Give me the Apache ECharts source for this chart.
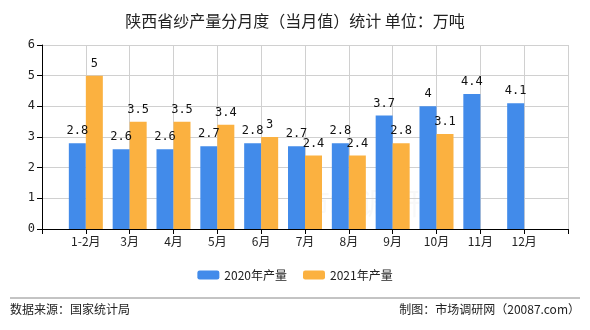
<!DOCTYPE html>
<html>
<head>
<meta charset="utf-8">
<script src="https://cdn.jsdelivr.net/npm/echarts@6/dist/echarts.min.js"></script>
<style>
html,body{margin:0;padding:0;background:#fff;}
#chart{width:590px;height:330px;}
</style>
</head>
<body>
<div id="chart"></div>
<script>
// Monthly yarn output in Shaanxi (10k tonnes); blank slots pad both ends of the axis
const months = ['', '1-2月', '3月', '4月', '5月', '6月', '7月', '8月', '9月', '10月', '11月', '12月', ''];
const output2020 = [null, 2.8, 2.6, 2.6, 2.7, 2.8, 2.7, 2.8, 3.7, 4, 4.4, 4.1, null];
const output2021 = [null, 5, 3.5, 3.5, 3.4, 3, 2.4, 2.4, 2.8, 3.1, null, null, null];
const seriesNames = ['2020年产量', '2021年产量'];
const yTicks = [0, 1, 2, 3, 4, 5, 6];

const chart = echarts.init(document.getElementById('chart'), null, { renderer: 'canvas' });
const labelFont = '"DejaVu Sans Mono", monospace';
const cjkFont = '"Noto Sans CJK SC", sans-serif';

chart.setOption({
  animation: false,
  backgroundColor: '#fff',
  title: {
    text: '陕西省纱产量分月度（当月值）统计 单位：万吨',
    left: 'center',
    top: 8,
    textStyle: { fontSize: 16, fontWeight: 'normal', color: '#222', fontFamily: cjkFont }
  },
  legend: {
    data: seriesNames,
    bottom: 44,
    left: 'center',
    itemWidth: 22,
    itemHeight: 9,
    itemGap: 16,
    textStyle: { fontSize: 12, color: '#222', fontFamily: cjkFont }
  },
  grid: { left: 42, right: 22, top: 45, bottom: 101 },
  xAxis: {
    type: 'category',
    data: months,
    boundaryGap: false,
    axisLine: { lineStyle: { color: '#000', width: 1 } },
    axisTick: { show: true, lineStyle: { color: '#000' } },
    axisLabel: { color: '#222', fontSize: 12, fontFamily: cjkFont, margin: 6, interval: 0 },
    splitLine: { show: true, lineStyle: { color: '#d0d0d0' } }
  },
  yAxis: {
    type: 'value',
    min: yTicks[0],
    max: yTicks[yTicks.length - 1],
    interval: 1,
    axisLine: { show: true, lineStyle: { color: '#000', width: 1 } },
    axisTick: { show: true, lineStyle: { color: '#000' } },
    axisLabel: { color: '#222', fontSize: 12, fontFamily: labelFont, margin: 7 },
    splitLine: { show: true, lineStyle: { color: '#d0d0d0' } }
  },
  series: [
    {
      name: seriesNames[0],
      type: 'bar',
      data: output2020,
      barWidth: 17,
      barGap: '0%',
      itemStyle: { color: '#428bea' },
      label: { show: true, position: 'top', color: '#111', fontSize: 12, fontFamily: labelFont, distance: 6 }
    },
    {
      name: seriesNames[1],
      type: 'bar',
      data: output2021,
      barWidth: 17,
      barGap: '0%',
      itemStyle: { color: '#fbb140' },
      label: { show: true, position: 'top', color: '#111', fontSize: 12, fontFamily: labelFont, distance: 6 }
    }
  ],
  graphic: [
    {
      type: 'text',
      left: 300, top: 188,
      silent: true,
      style: { text: '市场调研网', fontSize: 30, fill: 'rgba(200,200,200,0.12)', fontFamily: cjkFont }
    },
    {
      type: 'line',
      shape: { x1: 10, y1: 298, x2: 580, y2: 298 },
      style: { stroke: '#888', lineWidth: 1 }
    },
    {
      type: 'text',
      left: 10, top: 303,
      style: { text: '数据来源：国家统计局', fontSize: 12, fill: '#222', fontFamily: cjkFont }
    },
    {
      type: 'text',
      right: 10, top: 303,
      style: { text: '制图：市场调研网（20087.com）', fontSize: 12, fill: '#222', fontFamily: cjkFont }
    }
  ]
});
</script>
</body>
</html>
